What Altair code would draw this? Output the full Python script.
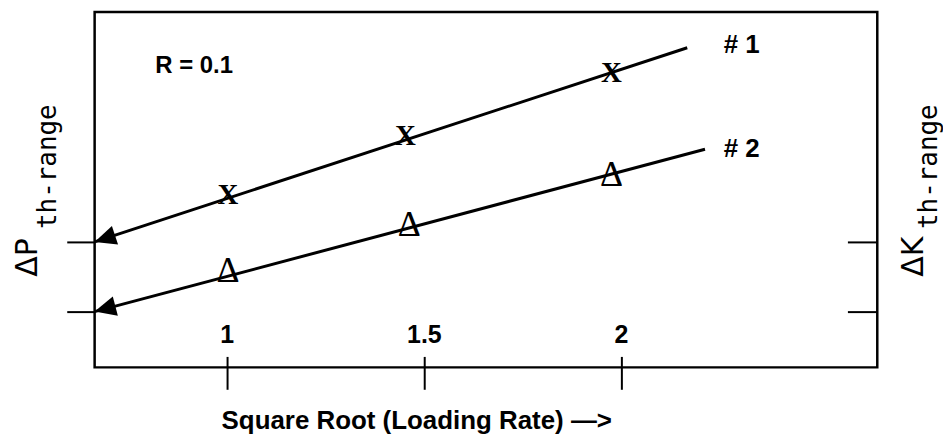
import math
import altair as alt
import pandas as pd

# ---------------- data ----------------
X_DOMAIN = [0.665, 2.65]
Y_DOMAIN = [0.2, 5.3]
x_tick_values = [1, 1.5, 2]
y_tick_values = [1, 2]

line_series = ["# 1", "# 1", "# 2", "# 2"]
line_x = [0.665, 2.168, 0.665, 2.213]
line_y = [2.0, 4.786, 1.0, 3.329]

cross_x = [1.003, 1.453, 1.976]
cross_y = [2.671, 3.514, 4.429]
delta_x = [1.003, 1.463, 1.976]
delta_y = [1.586, 2.243, 2.957]

series_labels = ["# 1", "# 2"]
series_label_x = [2.306, 2.306]
series_label_y = [4.829, 3.329]

note_text = ["R = 0.1"]
note_x = [0.9175]
note_y = [4.53]

x_title = "Square Root (Loading Rate) \u2014>"
left_title = ["\u0394P", "th-range"]
right_title = ["\u0394K", "th-range"]

# ---------------- layout ----------------
W, H = 786, 357
px_x = W / (X_DOMAIN[1] - X_DOMAIN[0])
px_y = H / (Y_DOMAIN[1] - Y_DOMAIN[0])

lines_df = pd.DataFrame({"series": line_series, "x": line_x, "y": line_y})
heads = []
for s in series_labels:
    sub = lines_df[lines_df.series == s].reset_index(drop=True)
    x0, y0, x1, y1 = sub.x[0], sub.y[0], sub.x[1], sub.y[1]
    ang = math.degrees(math.atan2((y1 - y0) * px_y, (x1 - x0) * px_x))
    heads.append({"series": s, "x": x0, "y": y0, "angle": (360 - ang) % 360})
heads_df = pd.DataFrame(heads)
cross_df = pd.DataFrame({"x": cross_x, "y": cross_y})
delta_df = pd.DataFrame({"x": delta_x, "y": delta_y})
lab_df = pd.DataFrame({"t": series_labels, "x": series_label_x, "y": series_label_y})
note_df = pd.DataFrame({"t": note_text, "x": note_x, "y": note_y})
one = pd.DataFrame({"a": [0]})

xs = alt.Scale(domain=X_DOMAIN, nice=False, zero=False)
ys = alt.Scale(domain=Y_DOMAIN, nice=False, zero=False)

x_axis = alt.Axis(
    values=x_tick_values, format="~g", title=x_title, offset=-11,
    tickSize=33, tickWidth=2, tickColor="black", domain=False, grid=False,
    labelFont="Liberation Sans", labelFontWeight="bold", labelFontSize=25,
    labelColor="black", labelPadding=-47, labelBaseline="alphabetic",
    labelFlush=False,
    titleFont="Liberation Sans", titleFontWeight="bold", titleFontSize=26,
    titleColor="black", titleX=323, titleY=72, titleAlign="center",
    titleBaseline="alphabetic",
)
y_left = alt.Axis(
    orient="left", values=y_tick_values, labels=False, domain=False,
    grid=False, tickSize=28, tickWidth=2, tickColor="black", title=None,
)
y_right = alt.Axis(
    orient="right", values=y_tick_values, labels=False, domain=False,
    grid=False, tickSize=30, tickWidth=2, tickColor="black", title=None,
    offset=-30,
)

enc_x = alt.X("x:Q", scale=xs, axis=x_axis)
enc_y = alt.Y("y:Q", scale=ys, axis=y_left)

lines = alt.Chart(lines_df).mark_line(color="black", strokeWidth=3).encode(
    x=enc_x, y=enc_y, detail="series:N"
)
arrows = alt.Chart(heads_df).mark_point(
    shape="M0,0L1,-0.46L1,0.46Z", size=1850, filled=True, fill="black",
    opacity=1, strokeWidth=0,
).encode(x=enc_x, y=enc_y, angle=alt.Angle("angle:Q", scale=None))
crosses = alt.Chart(cross_df).mark_text(
    text="X", font="Liberation Serif", fontWeight="bold", fontSize=29,
    baseline="middle", align="center", color="black",
).encode(x=enc_x, y=enc_y)
labels = alt.Chart(lab_df).mark_text(
    font="Liberation Sans", fontWeight="bold", fontSize=26,
    baseline="middle", align="center", color="black",
).encode(x=enc_x, y=enc_y, text="t:N")
note = alt.Chart(note_df).mark_text(
    font="Liberation Sans", fontWeight="bold", fontSize=24,
    baseline="middle", align="center", color="black",
).encode(x=enc_x, y=enc_y, text="t:N")

def rot_text(txt, px, py, size, font):
    return alt.Chart(one).mark_text(
        text=txt, angle=270, align="left", baseline="alphabetic",
        font=font, fontSize=size, color="black",
    ).encode(x=alt.value(px), y=alt.value(py))

titles = [
    rot_text(left_title[0], -58, 266, 30, "DejaVu Sans"),
    rot_text(left_title[1], -39, 218, 26, "DejaVu Sans Mono"),
    rot_text(right_title[0], 832, 266, 30, "DejaVu Sans"),
    rot_text(right_title[1], 846, 218, 26, "DejaVu Sans Mono"),
]

inner = alt.layer(lines, arrows, crosses, labels, note, *titles)

deltas = alt.Chart(delta_df).mark_text(
    text="\u0394", font="Liberation Serif", fontSize=36,
    baseline="middle", align="center", color="black",
).encode(x=enc_x, y=alt.Y("y:Q", scale=ys, axis=y_right))

chart = alt.layer(inner, deltas).resolve_axis(y="independent").properties(
    width=W, height=H,
    autosize=alt.AutoSizeParams(type="none"),
    padding={"left": 87, "top": 3, "right": 66, "bottom": 66},
    background="white",
).configure_view(stroke="black", strokeWidth=2.5)

chart.save("out.html", embed_options={"renderer": "svg", "actions": False})
